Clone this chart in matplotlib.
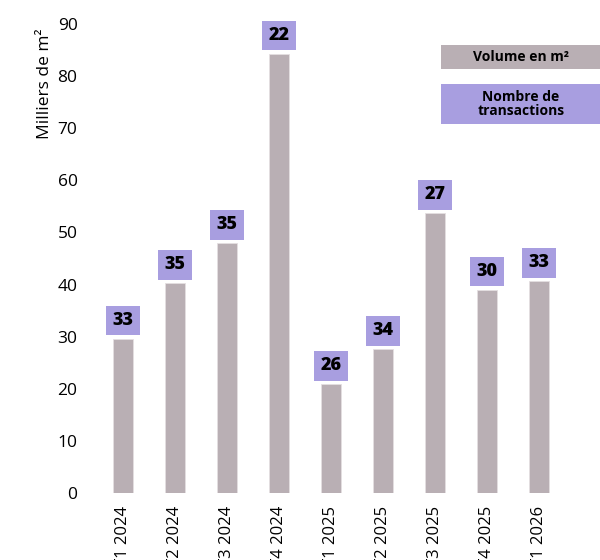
import matplotlib.pyplot as plt
import numpy as np

# ----------------------------------------------------------------------
# DATA
# ----------------------------------------------------------------------
quarters = ["T1 2024", "T2 2024", "T3 2024", "T4 2024", "T1 2025",
            "T2 2025", "T3 2025", "T4 2025", "T1 2026"]
volume_k_m2 = [29.6, 40.3, 48.0, 84.3, 20.9, 27.6, 53.7, 39.0, 40.7]
nb_transactions = [33, 35, 35, 22, 26, 34, 27, 30, 33]
y_ticks = [0, 10, 20, 30, 40, 50, 60, 70, 80, 90]

BAR_COLOR = "#b9afb4"
BOX_COLOR = "#a89ee0"
plt.rcParams["font.family"] = ["Open Sans", "DejaVu Sans"]

fig = plt.figure(figsize=(6, 5.6), dpi=100)
ax = fig.add_axes([0.1617, 0.1196, 0.78, 0.8374])

x = np.arange(len(quarters))
ax.bar(x, volume_k_m2, width=0.4, color=BAR_COLOR, edgecolor="#e4dfe1", linewidth=0.6)

# number of transactions on top of each bar
for xi, v, n in zip(x, volume_k_m2, nb_transactions):
    ax.annotate(str(n), (xi, v), xytext=(0, 7), textcoords="offset points",
                ha="center", va="bottom", fontsize=13, fontweight="heavy",
                color="black",
                bbox=dict(boxstyle="square,pad=0.35", fc=BOX_COLOR, ec="none"))

ax.set_xlim(-0.5, len(quarters) - 0.5)
ax.set_ylim(0, 90)
ax.set_yticks(y_ticks)
ax.set_xticks(x)
ax.set_xticklabels(quarters, rotation=90, fontsize=12, va="top")
ax.tick_params(axis="y", labelsize=12.5, length=0, pad=14)
ax.tick_params(axis="x", length=0, pad=9)
for s in ax.spines.values():
    s.set_visible(False)
ax.set_ylabel("Milliers de m²", fontsize=12.5)
ax.yaxis.set_label_coords(-0.095, 0.873)

# legend boxes
fig.patches.append(plt.Rectangle((441 / 600, 1 - 69 / 560), 159 / 600, 24 / 560,
                                 transform=fig.transFigure, fc=BAR_COLOR, ec="none"))
fig.text(521 / 600, 1 - 57 / 560, "Volume en m²", ha="center", va="center",
         fontsize=10, fontweight="bold")
fig.patches.append(plt.Rectangle((441 / 600, 1 - 124 / 560), 159 / 600, 40 / 560,
                                 transform=fig.transFigure, fc=BOX_COLOR, ec="none"))
fig.text(521 / 600, 1 - 104 / 560, "Nombre de\ntransactions", ha="center", va="center",
         fontsize=10, fontweight="bold", linespacing=1.05)

fig.savefig("out.png", dpi=100)
